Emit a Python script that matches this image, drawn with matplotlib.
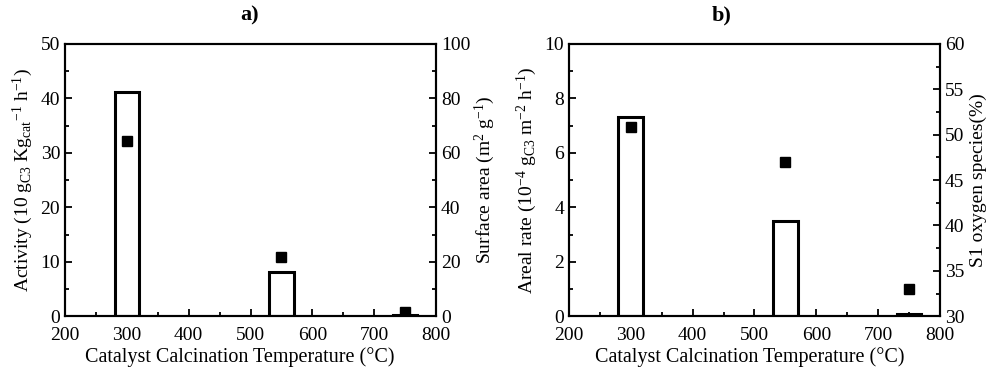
import matplotlib
matplotlib.use("Agg")
import matplotlib.pyplot as plt
from matplotlib.ticker import MultipleLocator

plt.rcParams['font.family'] = ['Liberation Serif', 'DejaVu Serif']
plt.rcParams['mathtext.fontset'] = 'custom'
plt.rcParams['mathtext.rm'] = 'Liberation Serif'
plt.rcParams['mathtext.it'] = 'Liberation Serif:italic'
plt.rcParams['mathtext.bf'] = 'Liberation Serif:bold'

temps = [300, 550, 750]
activity = [41.2, 8.1, 0.15]
surface_area = [64.4, 21.6, 1.4]
areal_rate = [7.3, 3.5, 0.08]
s1_oxygen = [50.8, 47.0, 33.0]

fig = plt.figure(figsize=(9.9, 3.72), dpi=100)
ax1 = fig.add_axes([0.0657, 0.150, 0.3747, 0.732])
ax2 = fig.add_axes([0.5747, 0.150, 0.3748, 0.732])

FS = 14

def style(ax):
    ax.tick_params(direction='in', which='both', labelsize=FS, width=1.3)
    ax.tick_params(which='major', length=5)
    ax.tick_params(which='minor', length=3)
    ax.tick_params(axis='x', pad=7.5)
    for s in ax.spines.values():
        s.set_linewidth(1.5)

for ax, bars, ymax, ymaj, ymin in [
        (ax1, activity, 50, 10, 5),
        (ax2, areal_rate, 10, 2, 1)]:
    ax.bar(temps, bars, width=40, facecolor='white', edgecolor='black', linewidth=2.2, zorder=2)
    ax.set_xlim(200, 800)
    ax.set_ylim(0, ymax)
    ax.xaxis.set_major_locator(MultipleLocator(100))
    ax.xaxis.set_minor_locator(MultipleLocator(50))
    ax.yaxis.set_major_locator(MultipleLocator(ymaj))
    ax.yaxis.set_minor_locator(MultipleLocator(ymin))
    ax.set_xlabel('Catalyst Calcination Temperature (°C)', fontsize=14.5)
    style(ax)

ax1.xaxis.set_label_coords(0.47, -0.115)
ax2.xaxis.set_label_coords(0.487, -0.115)

fig.text(250 / 990, 1 - 15 / 372, 'a)', fontsize=16, fontweight='bold', ha='center', va='center')
fig.text(722 / 990, 1 - 15 / 372, 'b)', fontsize=16, fontweight='bold', ha='center', va='center')

ax1.set_ylabel(r'Activity (10 g$_{\mathregular{C3}}$ Kg$_{\mathregular{cat}}$$^{\mathregular{-1}}$ h$^{\mathregular{-1}}$)', fontsize=FS)
ax2.set_ylabel(r'Areal rate (10$^{\mathregular{-4}}$ g$_{\mathregular{C3}}$ m$^{\mathregular{-2}}$ h$^{\mathregular{-1}}$)', fontsize=FS)

t1 = ax1.twinx()
t1.plot(temps, surface_area, 's', color='black', markersize=6.5, zorder=3)
t1.set_ylim(0, 100)
t1.yaxis.set_major_locator(MultipleLocator(20))
t1.yaxis.set_minor_locator(MultipleLocator(10))
t1.set_ylabel(r'Surface area (m$^{\mathregular{2}}$ g$^{\mathregular{-1}}$)', fontsize=FS, labelpad=2)
style(t1)

t2 = ax2.twinx()
t2.plot(temps, s1_oxygen, 's', color='black', markersize=6.5, zorder=3)
t2.set_ylim(30, 60)
t2.yaxis.set_major_locator(MultipleLocator(5))
t2.yaxis.set_minor_locator(MultipleLocator(2.5))
t2.set_ylabel('S1 oxygen species(%)', fontsize=FS)
style(t2)

fig.savefig('out.png', dpi=100)
